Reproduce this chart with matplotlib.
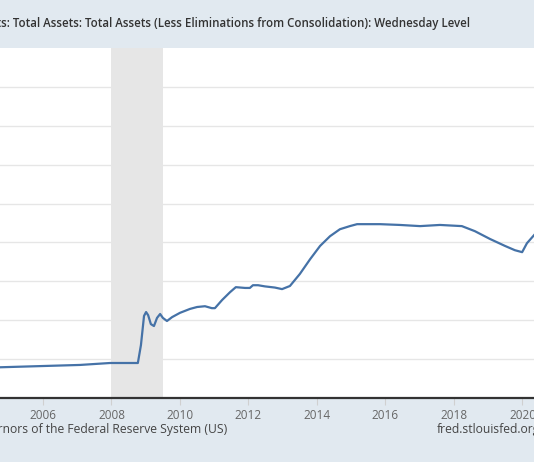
import matplotlib
matplotlib.use("Agg")
import matplotlib.pyplot as plt

# ---- data ----
years = [2004.70, 2004.75, 2005.91, 2007.08, 2007.96, 2008.77, 2008.86, 2008.95, 2009.01,
         2009.07, 2009.15, 2009.24, 2009.33, 2009.42, 2009.50, 2009.62, 2009.77, 2010.00,
         2010.29, 2010.50, 2010.73, 2010.93, 2011.02, 2011.23, 2011.46, 2011.63, 2011.90,
         2012.04, 2012.13, 2012.28, 2012.48, 2012.77, 2012.98, 2013.21, 2013.50, 2013.80,
         2014.09, 2014.38, 2014.67, 2014.96, 2015.17, 2015.84, 2016.42, 2017.01, 2017.59,
         2018.23, 2018.61, 2019.05, 2019.49, 2019.78, 2019.99, 2020.13, 2020.40]
assets_millions = [786000, 790000, 820000, 850000, 900000, 900000, 1360000, 2110000, 2210000,
                   2130000, 1900000, 1850000, 2060000, 2160000, 2060000, 1980000, 2080000, 2190000,
                   2290000, 2340000, 2360000, 2310000, 2310000, 2520000, 2720000, 2850000, 2830000,
                   2830000, 2900000, 2900000, 2870000, 2840000, 2800000, 2880000, 3190000, 3570000,
                   3910000, 4160000, 4340000, 4420000, 4470000, 4470000, 4450000, 4420000, 4450000,
                   4420000, 4290000, 4090000, 3910000, 3800000, 3750000, 3980000, 4250000]
recession = (2007.99, 2009.50)
tick_years = [2006, 2008, 2010, 2012, 2014, 2016, 2018, 2020]
tick_labels = ["2006", "2008", "2010", "2012", "2014", "2016", "2018", "2020"]
title = "Assets: Total Assets: Total Assets (Less Eliminations from Consolidation): Wednesday Level"
source = "Source: Board of Governors of the Federal Reserve System (US)"
site = "fred.stlouisfed.org"

W, H = 534, 462
BG = "#e1e9f0"
plt.rcParams["font.family"] = ["Open Sans", "DejaVu Sans"]

fig = plt.figure(figsize=(W / 100, H / 100), dpi=100, facecolor=BG)

def px(x, y):
    return x / W, 1 - y / H

ax_bottom, ax_top = 398, 48
ax = fig.add_axes([0, (H - ax_bottom) / H, 1, (ax_bottom - ax_top) / H])
ax.set_facecolor("white")
ax.set_xlim(2004.745, 2004.745 + W / 34.25)
ax.set_ylim(0, 9_000_000)

ax.set_yticks([i * 1_000_000 for i in range(1, 9)])
ax.yaxis.grid(True, color="#e6e6e6", lw=1.0, zorder=0)
ax.tick_params(axis="y", left=False, labelleft=False)

ax.axvspan(recession[0], recession[1], color="#e6e6e6", zorder=1, lw=0)
ax.plot(years, assets_millions, color="#4572a7", lw=1.6, zorder=3, solid_joinstyle="round")

ax.set_xticks(tick_years)
ax.set_xticklabels(tick_labels)
ax.tick_params(axis="x", length=5, width=0.8, color="#d0d0d0", labelsize=8.5,
               labelcolor="#666666", pad=3)
for s in ["left", "right", "top"]:
    ax.spines[s].set_visible(False)
ax.spines["bottom"].set_color("#333333")
ax.spines["bottom"].set_linewidth(1.6)

fig.text(*px(470, 23), title, ha="right", va="center", fontsize=8.3,
         fontweight="semibold", color="#333333")
fig.text(*px(227, 430), source, ha="right", va="center", fontsize=8.75, color="#444444")
fig.text(*px(437, 430), site, ha="left", va="center", fontsize=8.75, color="#444444")

fig.savefig("out.png", dpi=100, facecolor=BG)
